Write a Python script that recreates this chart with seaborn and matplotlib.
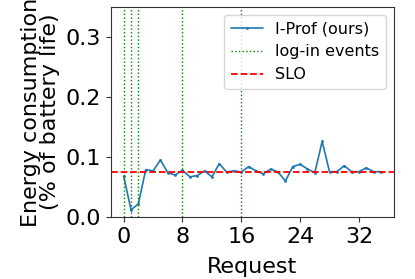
import matplotlib
matplotlib.use("Agg")
import matplotlib.pyplot as plt
import seaborn as sns
import pandas as pd

requests = list(range(36))
energy = [0.068, 0.012, 0.022, 0.079, 0.077, 0.095, 0.074, 0.070, 0.078, 0.067,
          0.069, 0.077, 0.067, 0.089, 0.075, 0.077, 0.075, 0.084, 0.077, 0.072,
          0.080, 0.075, 0.060, 0.084, 0.088, 0.080, 0.074, 0.126, 0.0756, 0.0756,
          0.0856, 0.0756, 0.0756, 0.082, 0.0756, 0.0756]
login_events = [0, 1, 2, 8, 16]
slo = 0.075
xticks = [0, 8, 16, 24, 32]
yticks = [0.0, 0.1, 0.2, 0.3]

sns.set_style("ticks")
plt.rcParams['font.family'] = ['DejaVu Sans']
plt.rcParams['text.color'] = 'black'
plt.rcParams['axes.labelcolor'] = 'black'
plt.rcParams['xtick.color'] = '#333333'
plt.rcParams['ytick.color'] = '#333333'

df = pd.DataFrame({"Request": requests, "Energy": energy})

fig = plt.figure(figsize=(4.15, 2.79), dpi=100)
ax = fig.add_axes([0.267, 0.222, 0.682, 0.753])

sns.lineplot(data=df, x="Request", y="Energy", ax=ax, marker=".", markersize=4,
             color="#1f77b4", linewidth=1.2, markeredgewidth=0, label="I-Prof (ours)")
for i, ev in enumerate(login_events):
    ax.axvline(ev, color="green", linestyle=":", linewidth=1.0,
               label="log-in events" if i == 0 else None)
ax.axhline(slo, color="red", linestyle="--", linewidth=1.3, label="SLO")

ax.set_ylim(0, 0.35)
ax.set_xticks(xticks)
ax.set_yticks(yticks)
ax.tick_params(labelsize=16, labelcolor='black')
ax.set_xlabel("Request", fontsize=16, labelpad=7)
ax.set_ylabel("Energy consumption\n(% of battery life)", fontsize=16, linespacing=0.95,
              labelpad=4)
ax.legend(loc="upper right", fontsize=11.5)
for s in ax.spines.values():
    s.set_color("#333333")

fig.savefig("out.png", dpi=100)
